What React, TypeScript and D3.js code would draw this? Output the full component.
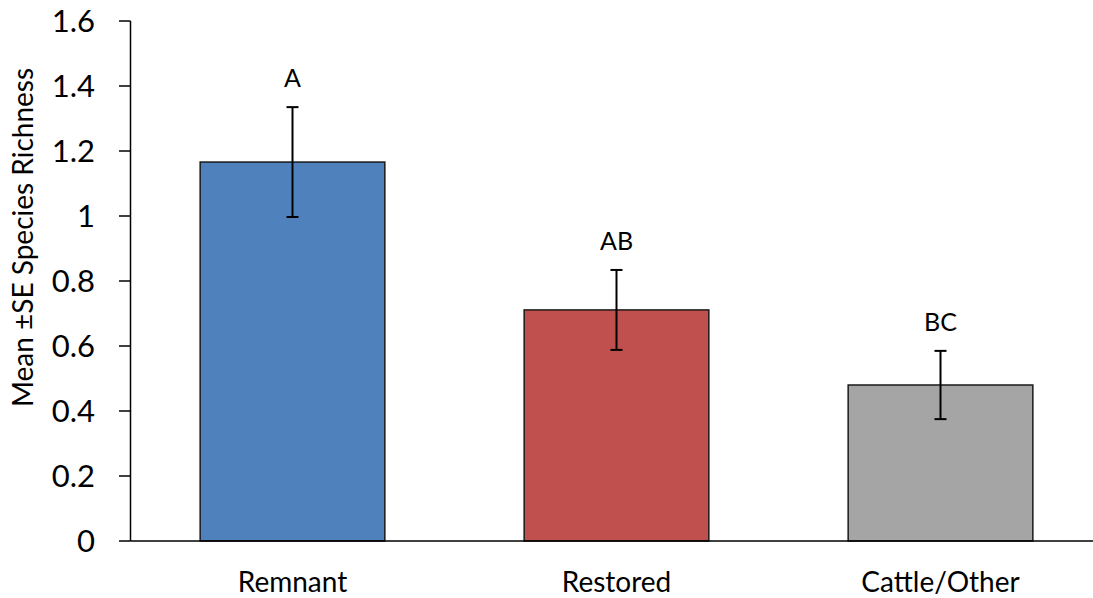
import React from "react";
import * as d3 from "d3";

const categories = ["Remnant", "Restored", "Cattle/Other"];
const means = [1.166, 0.711, 0.48];
const errors = [0.169, 0.123, 0.105];
const letters = ["A", "AB", "BC"];
const colors = ["#4F81BD", "#C0504D", "#A5A5A5"];
const yTicks = [0, 0.2, 0.4, 0.6, 0.8, 1, 1.2, 1.4, 1.6];

const W = 1093;
const H = 598;
const FONT = "Lato, Carlito, 'Open Sans', sans-serif";

export default function App() {
  const x0 = 130.5;
  const x = d3.scaleBand<string>().domain(categories).range([x0, x0 + 972]).paddingInner(0.43).paddingOuter(0.215);
  const y = d3.scaleLinear().domain([0, 1.6]).range([541, 21]);
  const bw = x.bandwidth();
  return (
    <svg width={W} height={H} style={{ position: "absolute", left: 0, top: 0, background: "#fff" }} fontFamily={FONT}>
      <line x1={x0} x2={x0} y1={y(1.6)} y2={y(0)} stroke="#000" strokeWidth={1.5} />
      {yTicks.map((t) => (
        <g key={t}>
          <line x1={119} x2={x0} y1={y(t)} y2={y(t)} stroke="#000" strokeWidth={1.5} />
          <text x={95} y={y(t)} dy="0.36em" textAnchor="end" fontSize={31} fill="#000">
            {d3.format("")(t)}
          </text>
        </g>
      ))}
      <text
        transform={`translate(${33},${237.5}) rotate(-90)`}
        textAnchor="middle"
        fontSize={28}
        fill="#000"
      >
        Mean ±SE Species Richness
      </text>
      {categories.map((c, i) => {
        const cx = (x(c) as number) + bw / 2;
        return (
          <g key={c}>
            <rect x={x(c)} y={y(means[i])} width={bw} height={y(0) - y(means[i])} fill={colors[i]} stroke="#1a1a1a" strokeWidth={1.5} />
            <line x1={cx} x2={cx} y1={y(means[i] + errors[i])} y2={y(means[i] - errors[i])} stroke="#000" strokeWidth={2} />
            <line x1={cx - 6} x2={cx + 6} y1={y(means[i] + errors[i])} y2={y(means[i] + errors[i])} stroke="#000" strokeWidth={2} />
            <line x1={cx - 6} x2={cx + 6} y1={y(means[i] - errors[i])} y2={y(means[i] - errors[i])} stroke="#000" strokeWidth={2} />
            <text x={cx} y={y(means[i] + errors[i]) - 20} textAnchor="middle" fontSize={25} fill="#000">
              {letters[i]}
            </text>
            <text x={cx} y={592} textAnchor="middle" fontSize={28} fill="#000">
              {c}
            </text>
          </g>
        );
      })}
      <line x1={x0} x2={W} y1={y(0)} y2={y(0)} stroke="#000" strokeWidth={1.5} />
    </svg>
  );
}
